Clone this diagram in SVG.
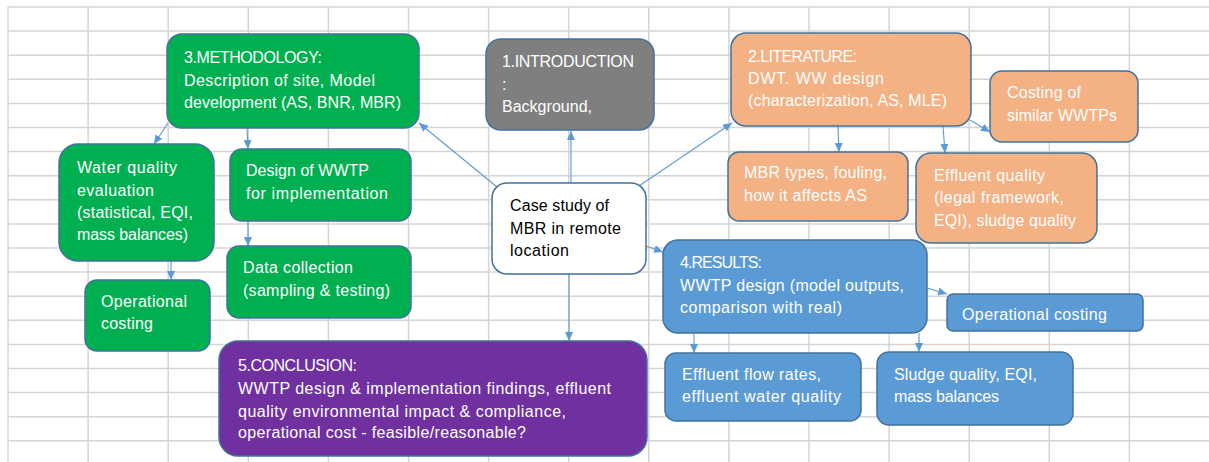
<svg xmlns="http://www.w3.org/2000/svg" width="1209" height="462" viewBox="0 0 1209 462">
<style>
.grid line{stroke:#d4d4d4;stroke-width:1.5}
.box{stroke:#41719c;stroke-width:1.5}
.green{fill:#00b050}.grey{fill:#7f7f7f}.orange{fill:#f4b183}.blue{fill:#5b9bd5}.purple{fill:#7030a0}.white{fill:#ffffff}
text{font-family:"Liberation Sans",Arial,sans-serif;font-size:16px;fill:#ffffff}
text.dark{fill:#000000}
.conn line{stroke:#5b9bd5;stroke-width:1.1;fill:none}
</style>
<defs>
<marker id="ah" markerUnits="userSpaceOnUse" markerWidth="9" markerHeight="8" refX="9" refY="4" orient="auto"><path d="M0,0 L9,4 L0,8 z" fill="#5b9bd5"/></marker>
</defs>
<rect width="1209" height="462" fill="#ffffff"/>
<g class="grid">
<line x1="8" y1="7" x2="8" y2="462"/><line x1="88.1" y1="7" x2="88.1" y2="462"/><line x1="168.2" y1="7" x2="168.2" y2="462"/><line x1="248.3" y1="7" x2="248.3" y2="462"/><line x1="328.4" y1="7" x2="328.4" y2="462"/><line x1="408.5" y1="7" x2="408.5" y2="462"/><line x1="488.6" y1="7" x2="488.6" y2="462"/><line x1="568.7" y1="7" x2="568.7" y2="462"/><line x1="648.8" y1="7" x2="648.8" y2="462"/><line x1="728.9" y1="7" x2="728.9" y2="462"/><line x1="809" y1="7" x2="809" y2="462"/><line x1="889.1" y1="7" x2="889.1" y2="462"/><line x1="969.2" y1="7" x2="969.2" y2="462"/><line x1="1049.3" y1="7" x2="1049.3" y2="462"/><line x1="1129.4" y1="7" x2="1129.4" y2="462"/>
<line x1="8" y1="7" x2="1209" y2="7"/><line x1="8" y1="31.1" x2="1209" y2="31.1"/><line x1="8" y1="55.2" x2="1209" y2="55.2"/><line x1="8" y1="79.3" x2="1209" y2="79.3"/><line x1="8" y1="103.4" x2="1209" y2="103.4"/><line x1="8" y1="127.5" x2="1209" y2="127.5"/><line x1="8" y1="151.6" x2="1209" y2="151.6"/><line x1="8" y1="175.7" x2="1209" y2="175.7"/><line x1="8" y1="199.8" x2="1209" y2="199.8"/><line x1="8" y1="223.9" x2="1209" y2="223.9"/><line x1="8" y1="248" x2="1209" y2="248"/><line x1="8" y1="272.1" x2="1209" y2="272.1"/><line x1="8" y1="296.2" x2="1209" y2="296.2"/><line x1="8" y1="320.3" x2="1209" y2="320.3"/><line x1="8" y1="344.4" x2="1209" y2="344.4"/><line x1="8" y1="368.5" x2="1209" y2="368.5"/><line x1="8" y1="392.6" x2="1209" y2="392.6"/><line x1="8" y1="416.7" x2="1209" y2="416.7"/><line x1="8" y1="440.8" x2="1209" y2="440.8"/>
</g>
<g class="conn">
<line x1="497" y1="187" x2="419" y2="123" marker-end="url(#ah)"/>
<line x1="571" y1="183" x2="571" y2="131" marker-end="url(#ah)"/>
<line x1="636" y1="188" x2="732" y2="123" marker-end="url(#ah)"/>
<line x1="646" y1="246" x2="663" y2="252" marker-end="url(#ah)"/>
<line x1="569" y1="274" x2="569" y2="341" marker-end="url(#ah)"/>
<line x1="168" y1="123" x2="154" y2="144" marker-end="url(#ah)"/>
<line x1="247" y1="128" x2="248" y2="149" marker-end="url(#ah)"/>
<line x1="171" y1="261" x2="171" y2="280" marker-end="url(#ah)"/>
<line x1="248" y1="221" x2="248" y2="246" marker-end="url(#ah)"/>
<line x1="838" y1="126" x2="839" y2="152" marker-end="url(#ah)"/>
<line x1="943" y1="126" x2="945" y2="153" marker-end="url(#ah)"/>
<line x1="970" y1="120" x2="990" y2="132" marker-end="url(#ah)"/>
<line x1="927" y1="288" x2="947" y2="294" marker-end="url(#ah)"/>
<line x1="694" y1="333" x2="694" y2="353" marker-end="url(#ah)"/>
<line x1="919" y1="333" x2="919" y2="352" marker-end="url(#ah)"/>
</g>
<g id="methodology"><rect class="box green" x="167" y="34" width="252" height="94" rx="15"/>
<text x="184" y="63" textLength="138">3.METHODOLOGY:</text>
<text x="184" y="86" textLength="191">Description of site, Model</text>
<text x="184" y="108" textLength="217">development (AS, BNR, MBR)</text></g>
<g id="introduction"><rect class="box grey" x="486" y="39" width="168" height="91" rx="15"/>
<text x="502" y="67" textLength="132">1.INTRODUCTION</text>
<text x="502" y="90">:</text>
<text x="502" y="112" textLength="90">Background,</text></g>
<g id="literature"><rect class="box orange" x="731" y="33" width="240" height="93" rx="15"/>
<text x="748" y="62" textLength="109">2.LITERATURE:</text>
<text x="748" y="84" textLength="136">DWT. WW design</text>
<text x="748" y="106" textLength="199">(characterization, AS, MLE)</text></g>
<g id="costing-similar"><rect class="box orange" x="990" y="71" width="148" height="71" rx="12"/>
<text x="1007" y="98" textLength="74">Costing of</text>
<text x="1007" y="121" textLength="110">similar WWTPs</text></g>
<g id="mbr-types"><rect class="box orange" x="728" y="152" width="180" height="69" rx="11"/>
<text x="744" y="178" textLength="143">MBR types, fouling,</text>
<text x="744" y="201" textLength="123">how it affects AS</text></g>
<g id="effluent-quality"><rect class="box orange" x="916" y="153" width="181" height="90" rx="15"/>
<text x="934" y="181" textLength="111">Effluent quality</text>
<text x="934" y="203" textLength="130">(legal framework,</text>
<text x="934" y="226" textLength="142">EQI), sludge quality</text></g>
<g id="case-study"><rect class="box white" x="492" y="183" width="154" height="91" rx="15"/>
<text class="dark" x="510" y="211" textLength="99">Case study of</text>
<text class="dark" x="510" y="234" textLength="111">MBR in remote</text>
<text class="dark" x="510" y="256" textLength="59">location</text></g>
<g id="results"><rect class="box blue" x="663" y="240" width="264" height="93" rx="15"/>
<text x="680" y="268" textLength="82">4.RESULTS:</text>
<text x="680" y="291" textLength="224">WWTP design (model outputs,</text>
<text x="680" y="313" textLength="162">comparison with real)</text></g>
<g id="operational-costing-results"><rect class="box blue" x="947" y="294" width="196" height="37" rx="6"/>
<text x="962" y="320" textLength="145">Operational costing</text></g>
<g id="effluent-flow"><rect class="box blue" x="665" y="353" width="196" height="68" rx="11"/>
<text x="682" y="380" textLength="139">Effluent flow rates,</text>
<text x="682" y="402" textLength="159">effluent water quality</text></g>
<g id="sludge-quality"><rect class="box blue" x="877" y="352" width="196" height="73" rx="12"/>
<text x="894" y="380" textLength="143">Sludge quality, EQI,</text>
<text x="894" y="402" textLength="105">mass balances</text></g>
<g id="conclusion"><rect class="box purple" x="219" y="341" width="428" height="115" rx="19"/>
<text x="238" y="371" textLength="119">5.CONCLUSION:</text>
<text x="238" y="394" textLength="373">WWTP design &amp; implementation findings, effluent</text>
<text x="238" y="417" textLength="328">quality environmental impact &amp; compliance,</text>
<text x="238" y="438" textLength="288">operational cost - feasible/reasonable?</text></g>
<g id="water-quality"><rect class="box green" x="59" y="144" width="155" height="117" rx="19"/>
<text x="77" y="173" textLength="100">Water quality</text>
<text x="77" y="196" textLength="77">evaluation</text>
<text x="77" y="218" textLength="116">(statistical, EQI,</text>
<text x="77" y="240" textLength="111">mass balances)</text></g>
<g id="design-wwtp"><rect class="box green" x="230" y="149" width="181" height="72" rx="12"/>
<text x="246" y="176" textLength="123">Design of WWTP</text>
<text x="246" y="199" textLength="142">for implementation</text></g>
<g id="data-collection"><rect class="box green" x="227" y="246" width="184" height="72" rx="12"/>
<text x="243" y="273" textLength="110">Data collection</text>
<text x="243" y="296" textLength="147">(sampling &amp; testing)</text></g>
<g id="operational-costing-method"><rect class="box green" x="85" y="280" width="125" height="71" rx="12"/>
<text x="101" y="307" textLength="86">Operational</text>
<text x="101" y="329" textLength="52">costing</text></g>
</svg>
